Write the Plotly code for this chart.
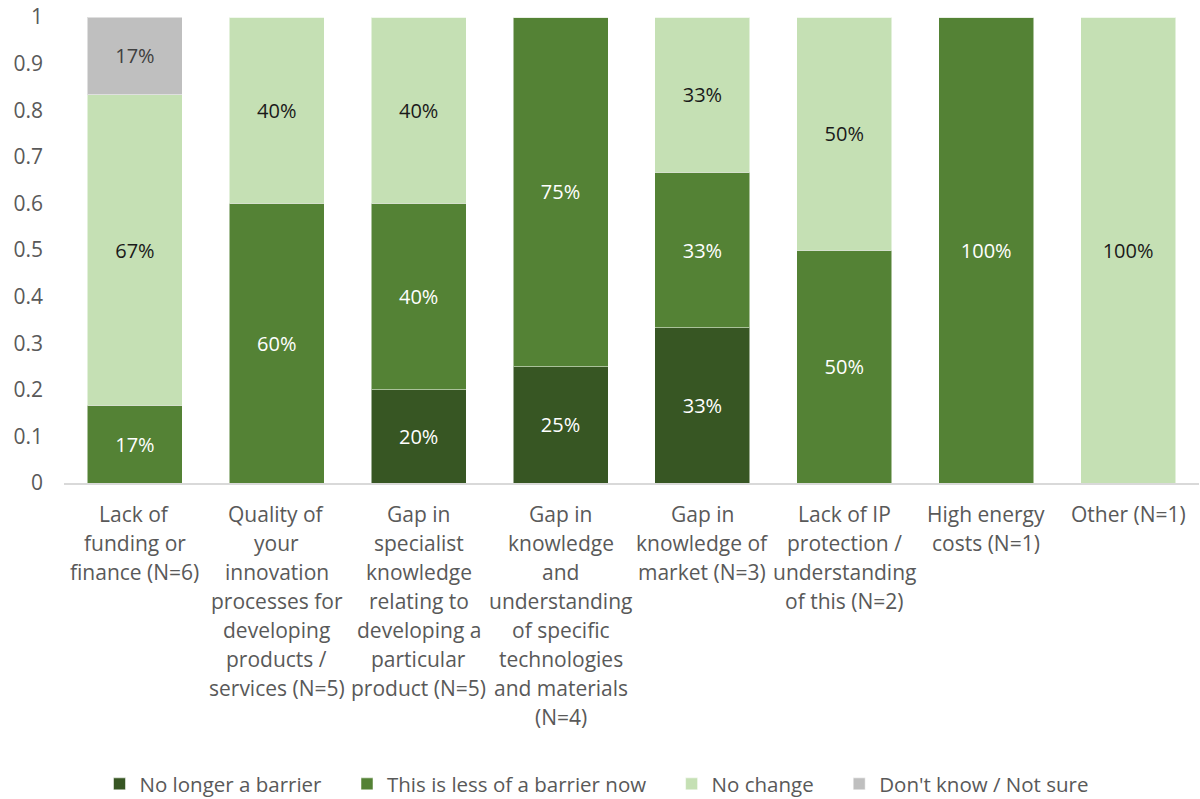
import plotly.graph_objects as go

categories = [
    "Lack of<br>funding or<br>finance (N=6)",
    "Quality of<br>your<br>innovation<br>processes for<br>developing<br>products /<br>services (N=5)",
    "Gap in<br>specialist<br>knowledge<br>relating to<br>developing a<br>particular<br>product (N=5)",
    "Gap in<br>knowledge<br>and<br>understanding<br>of specific<br>technologies<br>and materials<br>(N=4)",
    "Gap in<br>knowledge of<br>market (N=3)",
    "Lack of IP<br>protection /<br>understanding<br>of this (N=2)",
    "High energy<br>costs (N=1)",
    "Other (N=1)",
]
no_longer = [0, 0, 0.2, 0.25, 1/3, 0, 0, 0]
less_barrier = [1/6, 0.6, 0.4, 0.75, 1/3, 0.5, 1, 0]
no_change = [2/3, 0.4, 0.4, 0, 1/3, 0.5, 0, 1]
dont_know = [1/6, 0, 0, 0, 0, 0, 0, 0]

series_names = ["No longer a barrier", "This is less of a barrier now",
                "No change", "Don't know / Not sure"]
series_values = [no_longer, less_barrier, no_change, dont_know]
series_colors = ["#375623", "#548235", "#C5E0B4", "#BFBFBF"]
text_colors = ["white", "white", "#1a1a1a", "#404040"]

FONT = "Open Sans"
FS_AX = 21
FS_BAR = 20
FS_LEG = 20.5
GAP = "\u2003"  # legend spacing between entries

fig = go.Figure()
xs = list(range(len(categories)))
for j, (name, vals, color, tcol) in enumerate(zip(series_names, series_values,
                                                   series_colors, text_colors)):
    fig.add_trace(go.Bar(
        name=name + (GAP if j < len(series_names) - 1 else ""),
        x=xs, y=vals,
        marker=dict(color=color, line=dict(color="rgba(255,255,255,0.5)", width=1)),
        text=[f"{round(v*100)}%" if v > 0 else "" for v in vals],
        textposition="inside", insidetextanchor="middle", textangle=0,
        textfont=dict(color=tcol, size=FS_BAR, family=FONT),
        hoverinfo="skip",
    ))

# category labels, one annotation per line (Excel-like line spacing)
for i, lab in enumerate(categories):
    for k, line in enumerate(lab.split("<br>")):
        fig.add_annotation(x=xs[i], xref="x", y=0, yref="paper",
                           yanchor="middle", xanchor="center",
                           yshift=-(31 + 29 * k), text=line, showarrow=False,
                           font=dict(family=FONT, size=FS_AX, color="#595959"))

PLOT_W = 1200 - 64 - 1
fig.update_layout(
    barmode="stack", bargap=0.33,
    width=1200, height=799,
    margin=dict(l=64, r=1, t=17, b=316, autoexpand=False),
    plot_bgcolor="white", paper_bgcolor="white",
    font=dict(family=FONT, size=FS_AX, color="#595959"),
    legend=dict(orientation="h", x=0.5 - 35 / PLOT_W, xanchor="center", y=-0.646,
                yanchor="middle",
                font=dict(size=FS_LEG, color="#595959", family=FONT), traceorder="normal",
                itemwidth=30),
    uniformtext=dict(minsize=FS_BAR, mode="show"),
)
fig.update_xaxes(tickvals=xs, showticklabels=False, showgrid=False,
                 showline=True, linecolor="#D9D9D9", linewidth=2, ticks="",
                 range=[-0.5, 7.5], automargin=False)
fig.update_yaxes(range=[0, 1], dtick=0.1, showgrid=False, zeroline=False,
                 showline=False, ticks="", ticklabelstandoff=20, automargin=False,
                 ticklabeloverflow="allow",
                 tickfont=dict(size=FS_AX, color="#595959", family=FONT))

fig.write_html("out.html",
               config={"displayModeBar": False},
               post_script="document.body.style.margin='0';document.body.style.overflow='hidden';")
